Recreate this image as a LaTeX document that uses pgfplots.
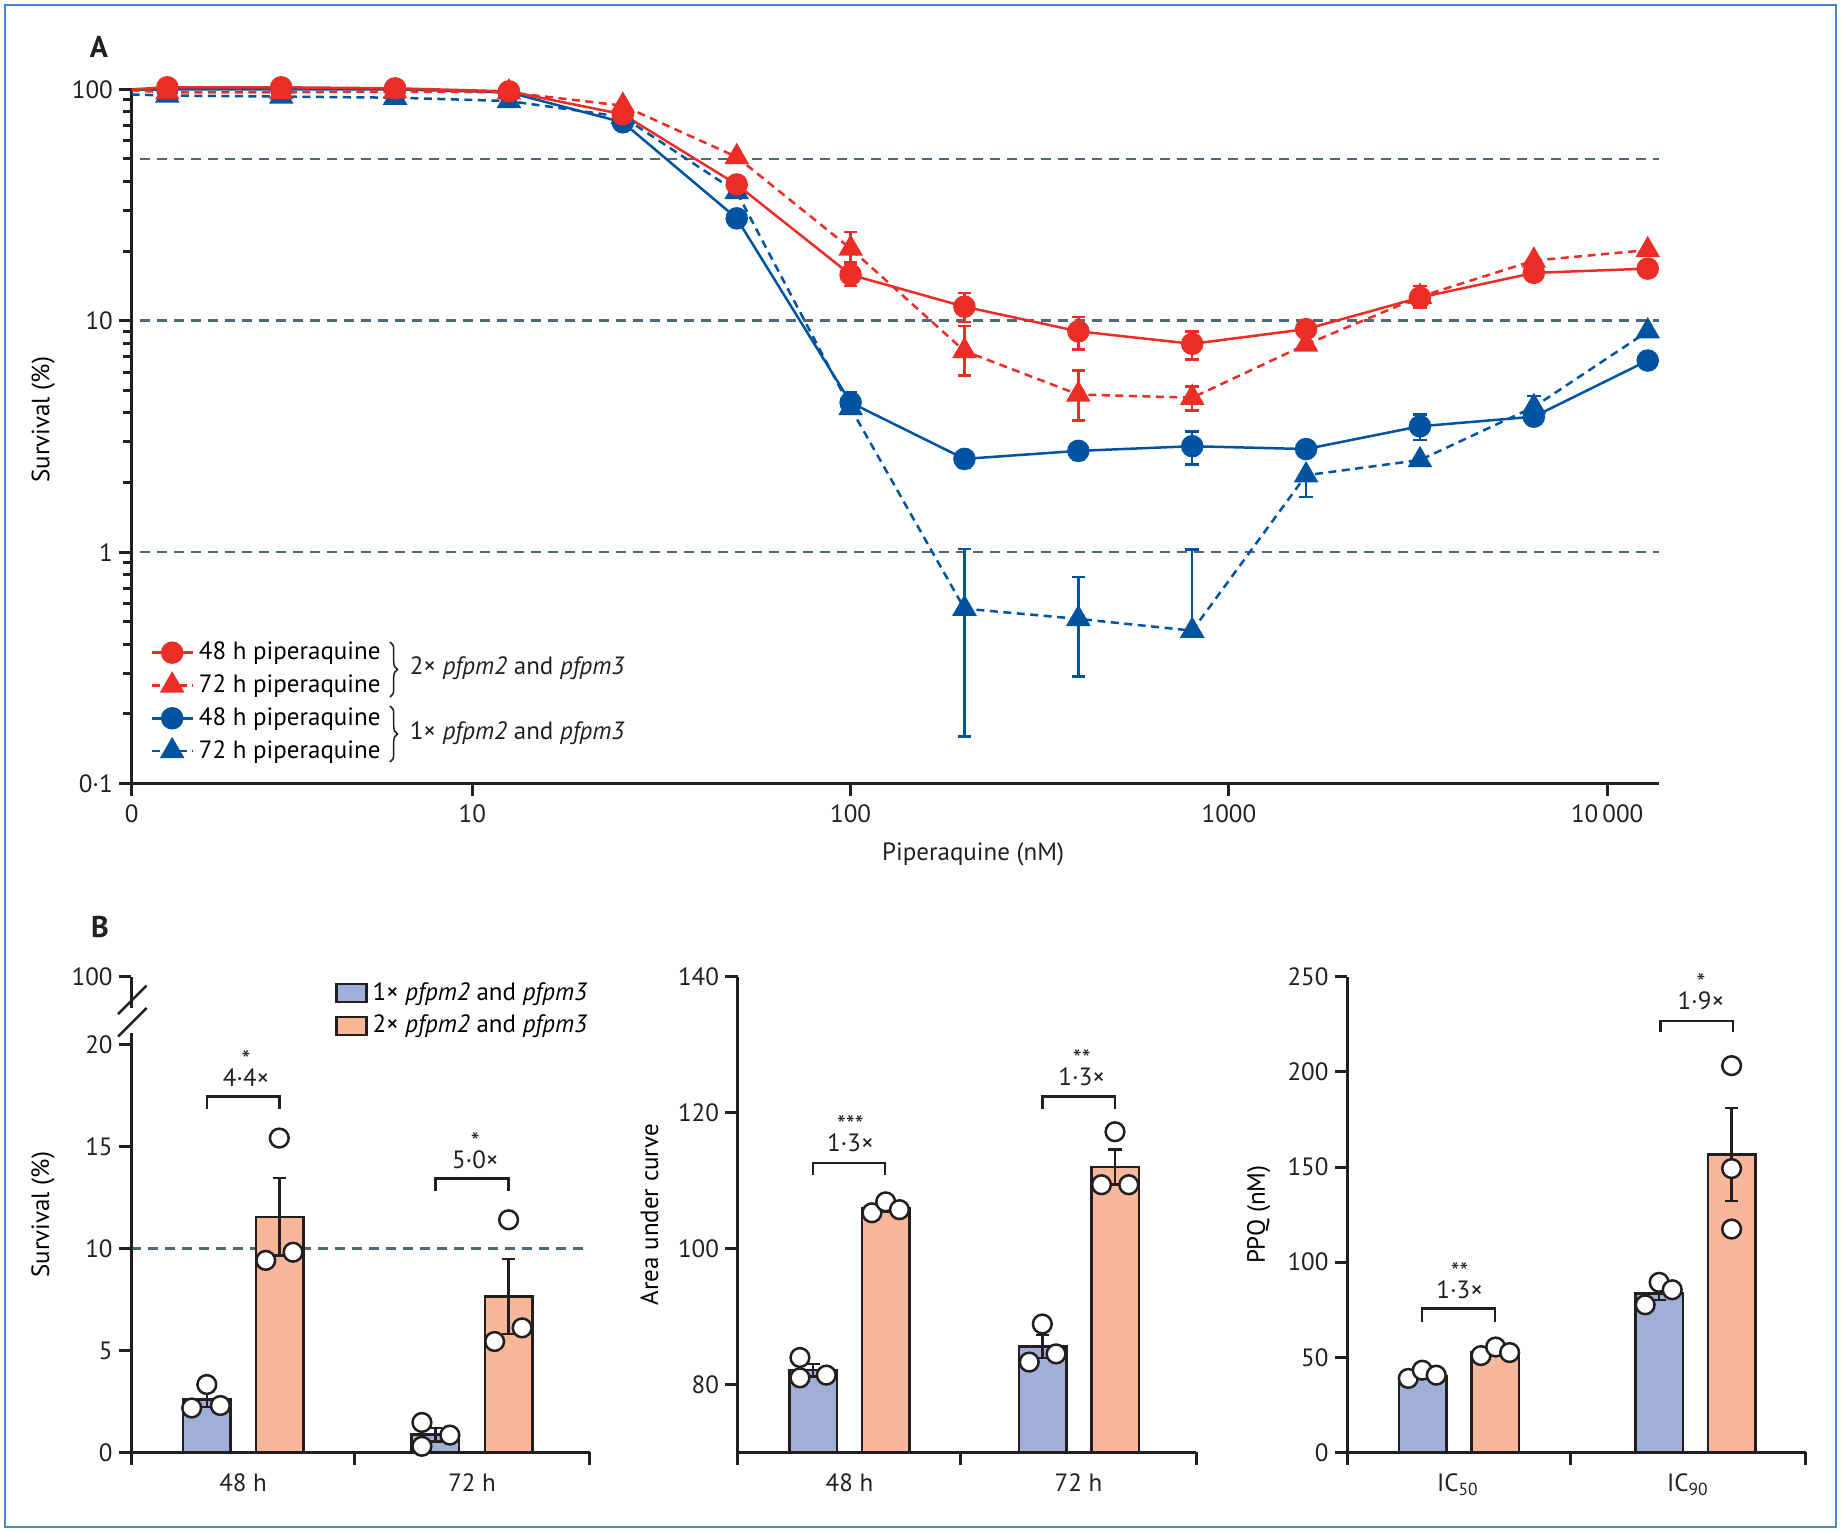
\documentclass[border=0pt]{standalone}
\usepackage{fontspec}
\setmainfont{PT Sans}
\usepackage{pgfplots}
\pgfplotsset{compat=1.18}
\usetikzlibrary{decorations.pathreplacing}
\definecolor{cred}{HTML}{EC2D26}
\definecolor{cblue}{HTML}{0053A0}
\definecolor{cbarb}{HTML}{A0AFD6}
\definecolor{cbaro}{HTML}{F8B69A}
\definecolor{cref}{HTML}{4E6A78}
\definecolor{caxis}{HTML}{231F20}
\definecolor{cframe}{HTML}{4A87C6}
\newcommand{\flab}{\fontsize{10}{12}\selectfont}
\pgfplotsset{
  pxaxis/.style={
    scale only axis, axis lines*=left, tick align=outside,
    axis line style={caxis, line width=1.2pt},
    tick style={caxis, line width=1.2pt},
    major tick length=5pt, minor tick length=3.5pt,
    tick label style={font=\flab, text=caxis},
    yticklabel style={xshift=1pt},
    label style={font=\flab, text=caxis},
    every axis y label/.style={at={(axis description cs:0,0.5)}, rotate=90, anchor=center, yshift=35.4pt},
  },
  bstyle/.style={pxaxis, anchor=south west, width=183.44pt, height=190.24pt,
    xmin=0, xmax=2, clip mode=individual,
    xtick={0,0.972,2}, xticklabels={},
    extra x tick style={tick style={draw=none}},
    legend image code/.code={\draw[#1] (0pt,-3.6pt) rectangle (12pt,3.6pt);},
  },
  refline/.style={cref, line width=1pt, dash pattern=on 4pt off 2.8pt, forget plot},
  dots/.style={only marks, mark=*, mark size=3.75pt, mark options={fill=white, draw=caxis, line width=1pt}, forget plot},
  bars/.style={ybar, bar width=19pt, bar shift=0pt, fill=#1, draw=caxis, line width=1pt,
    error bars/.cd, y dir=both, y explicit, error bar style={caxis, line width=1pt},
    error mark options={caxis, line width=1pt, mark size=2.7pt, rotate=90}},
  ser/.style={line width=1pt, error bars/.cd, y dir=both, y explicit,
    error bar style={solid, line width=1pt}, error mark options={solid, line width=1pt, mark size=2.7pt, rotate=90}},
}
\newcommand{\brk}[4]{% x1 x2 ybar yleg
  \draw[caxis, line width=1pt] (axis cs:#1,#4) -- (axis cs:#1,#3) -- (axis cs:#2,#3) -- (axis cs:#2,#4);}
\newcommand{\ann}[4]{% x, baseline of the ratio, stars, ratio
  \node[font={\fontsize{10}{7.2}\selectfont\lineskiplimit=-10pt}, text=caxis, inner sep=0pt,
    align=center, anchor=south] at (axis cs:#1,#2) {#3\\#4};}

\begin{document}
\begin{tikzpicture}
\path[use as bounding box] (0pt,0pt) rectangle (736.8pt,-613.2pt);

% ---------------- panel A ----------------
\begin{axis}[pxaxis, at={(52.64pt,-313.44pt)}, anchor=south west,
  width=610.96pt, height=277.72pt, clip=false,
  xmode=log, ymode=log, xmin=1.257, xmax=13710, ymin=0.1, ymax=100,
  xtick={1.257,10,100,1000,10000}, xticklabels={0,10,100,1000,10\,000},
  minor xtick={},
  ytick={0.1,1,10,100}, yticklabels={0·1,1,10,100},
  minor ytick={0.2,0.3,0.4,0.5,0.6,0.7,0.8,0.9,2,3,4,5,6,7,8,9,20,30,40,50,60,70,80,90},
  xlabel={Piperaquine (nM)}, ylabel={Survival (\%)},
  xlabel style={at={(axis description cs:0.551,0)}, anchor=center, yshift=-28.2pt},
  ylabel style={at={(axis description cs:0,0.524)}},
  reverse legend, legend cell align=left,
  legend style={at={(axis description cs:0.012,0.212)}, anchor=north west,
    draw=none, fill=none, font=\flab, inner sep=0pt, row sep=0.5pt},
  legend image code/.code={\draw[mark repeat=2, mark phase=2, #1] plot coordinates {(0pt,0pt) (8.2pt,0pt) (16.4pt,0pt)};},
]
\addplot[refline] coordinates {(1.32,50) (13710,50)};
\addplot[refline] coordinates {(1.32,10) (13710,10)};
\addplot[refline] coordinates {(1.32,1) (13710,1)};

% 72 h, 1x
\addplot[cblue, line width=1pt, dash pattern=on 3.2pt off 2.2pt, forget plot] coordinates {(1.257,95) (1.5625,94)};
\addplot[cblue, dash pattern=on 3.2pt off 2.2pt, mark=triangle*, mark size=4.7pt, mark options={solid}, ser]
  table[x=x, y=y, y error plus=ep, y error minus=em] {
x y ep em
1.5625 94 0 0
3.125 93 0 0
6.25 92 0 0
12.5 89 0 0
25 76 0 0
50 36 0 0
100 4.2 0 0
200 0.57 0.46 0.41
400 0.515 0.265 0.225
800 0.458 0.57 0
1600 2.15 0 0.42
3200 2.5 0 0
6400 4.24 0.49 0
12800 9.0 0 0
};
\addlegendentry{72 h piperaquine}

% 48 h, 1x
\addplot[cblue, line width=1pt, forget plot] coordinates {(1.257,100) (1.5625,100)};
\addplot[cblue, mark=*, mark size=4pt, ser]
  table[x=x, y=y, y error plus=ep, y error minus=em] {
x y ep em
1.5625 100 0 0
3.125 100 0 0
6.25 100 0 0
12.5 97 0 0
25 72 0 0
50 27.7 0 0
100 4.43 0.47 0.43
200 2.53 0.2 0.22
400 2.74 0.21 0.24
800 2.87 0.46 0.48
1600 2.79 0 0
3200 3.5 0.43 0.44
6400 3.85 0 0
12800 6.73 0 0
};
\addlegendentry{48 h piperaquine}

% 72 h, 2x
\addplot[cred, line width=1pt, dash pattern=on 3.2pt off 2.2pt, forget plot] coordinates {(1.257,99) (1.5625,97)};
\addplot[cred, dash pattern=on 3.2pt off 2.2pt, mark=triangle*, mark size=4.7pt, mark options={solid}, ser]
  table[x=x, y=y, y error plus=ep, y error minus=em] {
x y ep em
1.5625 97 0 0
3.125 97 0 0
6.25 98 0 0
12.5 97 0 0
25 85 0 0
50 51 0 0
100 20.5 3.7 2.8
200 7.4 2.1 1.6
400 4.8 1.3 1.1
800 4.65 0.55 0.55
1600 7.9 0 0
3200 12.7 0 0
6400 18.2 0 0
12800 20.2 0 0
};
\addlegendentry{72 h piperaquine}

% 48 h, 2x
\addplot[cred, line width=1pt, forget plot] coordinates {(1.257,100) (1.5625,102)};
\addplot[cred, mark=*, mark size=4pt, ser]
  table[x=x, y=y, y error plus=ep, y error minus=em] {
x y ep em
1.5625 102 0 0
3.125 102 0 0
6.25 101 0 0
12.5 98 0 0
25 78 0 0
50 38.8 0 0
100 15.8 2.1 1.7
200 11.5 1.7 1.6
400 9.0 1.4 1.5
800 7.95 1.05 1.15
1600 9.2 0 0
3200 12.6 1.5 1.2
6400 16.1 0.8 0.8
12800 16.8 0.9 0.9
};
\addlegendentry{48 h piperaquine}
\end{axis}

% ---------------- panel B, survival ----------------
\begin{axis}[bstyle, at={(52.56pt,-580.96pt)},
  ymin=0, ymax=23.33,
  ytick={0,5,10,15,20,23.33}, yticklabels={0,5,10,15,20,100},
  y axis line style={draw=none},
  extra x ticks={0.487,1.486}, extra x tick labels={48 h,72 h},
  ylabel={Survival (\%)},
  legend cell align=left,
  legend style={at={(axis description cs:0.443,1.0)}, anchor=north west,
    draw=none, fill=none, font=\flab, inner sep=0pt, row sep=0.5pt},
]
\addplot[refline] coordinates {(0,10) (2,10)};
\addplot[bars=cbarb] table[x=x, y=y, y error=e] {
x y e
0.329 2.6 0.37
1.326 0.87 0.33
};
\addlegendentry{1× \textit{pfpm2} and \textit{pfpm3}}
\addplot[bars=cbaro] table[x=x, y=y, y error=e] {
x y e
0.646 11.55 1.9
1.645 7.65 1.84
};
\addlegendentry{2× \textit{pfpm2} and \textit{pfpm3}}
\addplot[dots] coordinates {(0.263,2.18) (0.329,3.33) (0.388,2.30) (1.267,1.47) (1.267,0.30) (1.389,0.85)};
\addplot[dots] coordinates {(0.586,9.42) (0.645,15.42) (0.705,9.82) (1.645,11.41) (1.584,5.44) (1.704,6.11)};
\draw[caxis, line width=1.2pt] (axis cs:0,0) -- (axis cs:0,20.58);
\draw[caxis, line width=1.2pt] (axis cs:0,21.81) -- (axis cs:0,23.33);
\draw[caxis, line width=1pt] (axis cs:-0.058,20.4) -- (axis cs:0.066,21.8);
\draw[caxis, line width=1pt] (axis cs:-0.058,21.5) -- (axis cs:0.066,22.9);
\brk{0.329}{0.645}{17.47}{16.85}
\ann{0.50}{17.91}{*}{4·4×}
\brk{1.326}{1.645}{13.44}{12.8}
\ann{1.50}{13.89}{*}{5·0×}
\end{axis}

% ---------------- panel B, AUC ----------------
\begin{axis}[bstyle, at={(295.12pt,-580.96pt)},
  ymin=70, ymax=140,
  ytick={80,100,120,140}, yticklabels={80,100,120,140},
  extra x ticks={0.487,1.486}, extra x tick labels={48 h,72 h},
  ylabel={Area under curve},
]
\addplot[bars=cbarb] table[x=x, y=y, y error=e] {
x y e
0.329 82.1 0.9
1.329 85.6 1.7
};
\addplot[bars=cbaro] table[x=x, y=y, y error=e] {
x y e
0.645 105.95 0.5
1.646 112.0 2.6
};
\addplot[dots] coordinates {(0.271,83.97) (0.271,80.98) (0.386,81.38) (1.328,88.9) (1.271,83.3) (1.388,84.5)};
\addplot[dots] coordinates {(0.585,105.27) (0.645,106.88) (0.705,105.73) (1.645,117.2) (1.586,109.4) (1.705,109.4)};
\brk{0.327}{0.643}{112.63}{110.85}
\ann{0.491}{114.1}{***}{1·3×}
\brk{1.328}{1.645}{122.36}{120.58}
\ann{1.50}{123.9}{**}{1·3×}
\end{axis}

% ---------------- panel B, PPQ ----------------
\begin{axis}[bstyle, at={(538.92pt,-580.96pt)},
  ymin=0, ymax=250,
  ytick={0,50,100,150,200,250}, yticklabels={0,50,100,150,200,250},
  extra x ticks={0.483,1.486}, extra x tick labels={IC\textsubscript{50},IC\textsubscript{90}},
  ylabel={PPQ (nM)},
]
\addplot[bars=cbarb] table[x=x, y=y, y error=e] {
x y e
0.329 40.0 1.3
1.36 83.5 3.4
};
\addplot[bars=cbaro] table[x=x, y=y, y error=e] {
x y e
0.645 52.9 1.3
1.676 156.6 24.5
};
\addplot[dots] coordinates {(0.266,38.9) (0.327,43.2) (0.388,40.6) (1.299,77.6) (1.36,89.4) (1.417,85.5)};
\addplot[dots] coordinates {(0.583,50.9) (0.647,55.4) (0.708,52.5) (1.676,203.3) (1.676,149.2) (1.676,117.4)};
\brk{0.325}{0.644}{75.6}{68.8}
\ann{0.49}{80.6}{**}{1·3×}
\brk{1.365}{1.682}{226.9}{220.8}
\ann{1.542}{232.4}{*}{1·9×}
\end{axis}

% ---------------- frame, labels, braces ----------------
\begin{scope}[x=0.4pt, y=-0.4pt]
\draw[cframe, line width=0.8pt] (5,5) rectangle (1836,1527);
\node[font=\bfseries\fontsize{12}{12}\selectfont, text=caxis] at (99,47) {A};
\node[font=\bfseries\fontsize{12}{12}\selectfont, text=caxis] at (100,927) {B};
\draw[caxis, line width=0.6pt, decorate, decoration={brace, amplitude=3pt}] (390,642) -- (390,697);
\draw[caxis, line width=0.6pt, decorate, decoration={brace, amplitude=3pt}] (390,706) -- (390,762);
\node[font=\flab, text=caxis, anchor=west] at (401,668) {2× \textit{pfpm2} and \textit{pfpm3}};
\node[font=\flab, text=caxis, anchor=west] at (401,733) {1× \textit{pfpm2} and \textit{pfpm3}};
\end{scope}
\end{tikzpicture}
\end{document}
